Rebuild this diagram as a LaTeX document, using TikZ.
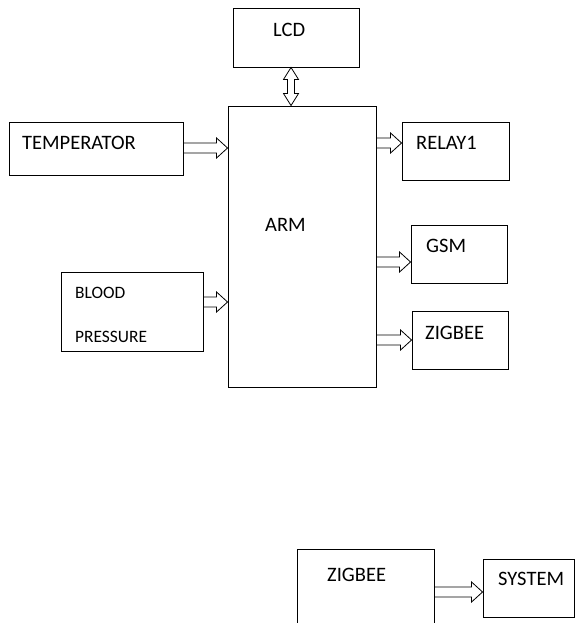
\documentclass[tikz,border=0pt]{standalone}
\usepackage{fontspec}
\setmainfont{Carlito}
\usetikzlibrary{calc}
\begin{document}
\begin{tikzpicture}[x=1pt,y=-1pt,
  box/.style={draw,line width=0.9pt,inner sep=0pt,minimum width=#1},
  lbl/.style={anchor=west,inner sep=0pt,font=\fontsize{20.5}{20.5}\selectfont},
  slbl/.style={anchor=west,inner sep=0pt,font=\fontsize{17.4}{17.4}\selectfont},
  hbarrow/.style={line width=0.8pt,to path={let \p1=(\tikztostart), \p2=(\tikztotarget) in
     (\x1,\y1+5pt) -- (\x2-11pt,\y1+5pt) -- (\x2-11pt,\y1+10pt) -- (\x2,\y1) -- (\x2-11pt,\y1-10pt) -- (\x2-11pt,\y1-5pt) -- (\x1,\y1-5pt) -- cycle}},
  vdarrow/.style={line width=0.8pt,to path={let \p1=(\tikztostart), \p2=(\tikztotarget) in
     (\x1,\y1) -- (\x1+7.5pt,\y1-12pt) -- (\x1+3.5pt,\y1-12pt) -- (\x1+3.5pt,\y2+12pt) -- (\x1+7.5pt,\y2+12pt) -- (\x2,\y2)
     -- (\x1-7.5pt,\y2+12pt) -- (\x1-3.5pt,\y2+12pt) -- (\x1-3.5pt,\y1-12pt) -- (\x1-7.5pt,\y1-12pt) -- cycle}}]
\useasboundingbox (0,0) rectangle (576,623);
\fill[white] (0,0) rectangle (576,623);
% boxes
\node[box=126pt,minimum height=59pt] (lcd) at (296,37.5) {};
\node[box=148pt,minimum height=281pt] (arm) at (302,246.5) {};
\node[box=174pt,minimum height=53pt] (temp) at (96,148.5) {};
\node[box=107pt,minimum height=58pt] (relay) at (455.5,151) {};
\node[box=96pt,minimum height=58pt] (gsm) at (459,254) {};
\node[box=96pt,minimum height=58pt] (zig) at (460,340) {};
\node[box=142pt,minimum height=79pt] (bp) at (132,311.5) {};
\node[box=137pt,minimum height=101pt] (zigb) at (365.5,599.5) {};
\node[box=91pt,minimum height=58pt] (sys) at (528.5,588) {};
% labels
\node[lbl] (lcdt) at (273,30) {LCD};
\node[lbl] (tempt) at (22,143) {TEMPERATOR};
\node[lbl] (relayt) at (416,143) {RELAY1};
\node[lbl] (armt) at (265,224.5) {ARM};
\node[lbl] (gsmt) at (426,246) {GSM};
\node[lbl] (zigt) at (425,333) {ZIGBEE};
\node[slbl] (bpt1) at (75,293) {BLOOD};
\node[slbl] (bpt2) at (75,337) {PRESSURE};
\node[lbl] (zigbt) at (327,575) {ZIGBEE};
\node[lbl] (syst) at (498,579) {SYSTEM};
% connector end points
\coordinate (lcdb) at (291,0);
\coordinate (tempo) at ([yshift=0.5pt]temp.east);
\coordinate (bpo) at ([yshift=9.5pt]bp.east);
\coordinate (relayi) at ([yshift=8pt]relay.west);
\coordinate (gsmi) at ([yshift=-8pt]gsm.west);
\coordinate (sysi) at ([yshift=-4pt]sys.west);
% arrows
\draw[vdarrow] (lcdb |- lcd.south) to (lcdb |- arm.north);
\draw[hbarrow] (tempo) to (arm.west |- tempo);
\draw[hbarrow] (relayi -| arm.east) to (relayi);
\draw[hbarrow] (gsmi -| arm.east) to (gsmi);
\draw[hbarrow] (zig.west -| arm.east) to (zig.west);
\draw[hbarrow] (bpo) to (arm.west |- bpo);
\draw[hbarrow] (sysi -| zigb.east) to (sysi);
\end{tikzpicture}
\end{document}
